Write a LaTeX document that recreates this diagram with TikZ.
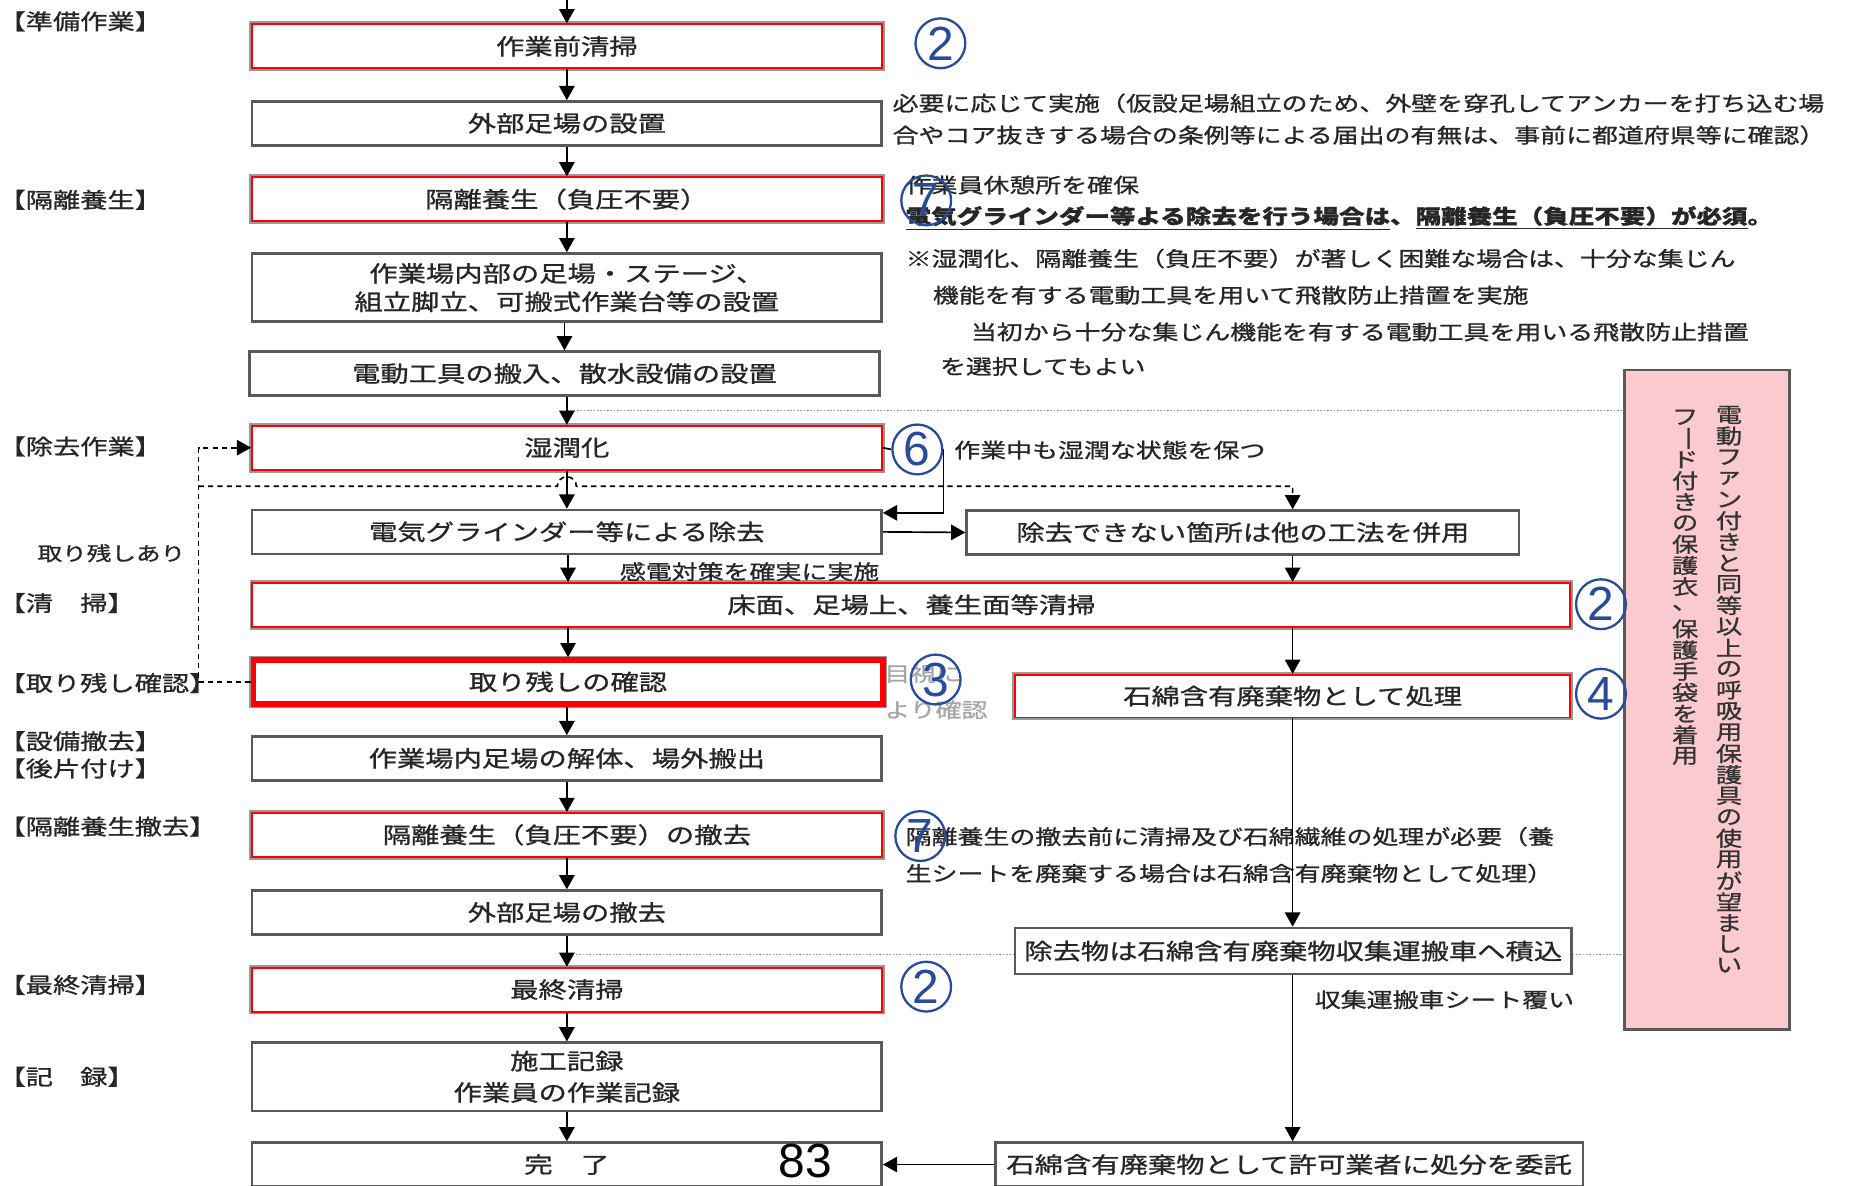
\documentclass[tikz,border=0pt]{standalone}
\usepackage{fontspec}
\setmainfont{Noto Sans CJK JP}[FakeStretch=1.27,FakeBold=1]
\newfontfamily\latinfont{Liberation Sans}
\usetikzlibrary{arrows.meta}
\usetikzlibrary{backgrounds}
\definecolor{cblue}{RGB}{40,75,155}
\definecolor{pinkbg}{RGB}{250,202,206}

\begin{document}
\begin{tikzpicture}[x=0.02cm,y=-0.02cm,>={Triangle[length=0.24cm,width=0.26cm]},line width=0.8pt,
  box/.style={draw=black!65,line width=1.2pt,fill=white,minimum width=10.62cm,minimum height=0.74cm,inner sep=0pt,text=black!85,font=\fontsize{10.7}{13.6}\selectfont},
  redbox/.style={box,draw=red,line width=0.9pt,preaction={draw=black!40,line width=2.8pt}},
  sidenote/.style={anchor=west,inner sep=0pt,text=black!85,align=left,font=\fontsize{9.8}{15.3}\selectfont},
  stage/.style={anchor=west,inner sep=0pt,text=black!85,font=\fontsize{10.3}{12}\selectfont},
  numc/.style={circle,draw=cblue,line width=1.1pt,minimum size=0.84cm,inner sep=0pt,text=cblue,font=\latinfont\fontsize{23}{23}\selectfont},
  vchar/.style={inner sep=0pt,text=black!80,font=\fontsize{9.95}{10}\selectfont},
  dashline/.style={dash pattern=on 2.5pt off 2pt},
  dotline/.style={draw=black!40,dash pattern=on 0.8pt off 0.8pt}]
\useasboundingbox (0,0) rectangle (1560,1000);

\node[stage] (s1) at (-2,18) {【準備作業】};
\node[stage] (s2) at (-2,168.5) {【隔離養生】};
\node[stage] (s3) at (-2,376.5) {【除去作業】};
\node[stage,font=\fontsize{9.3}{12}\selectfont] (s4) at (31,466.5) {取り残しあり};
\node[stage] (s5) at (-2,508.5) {【清　掃】};
\node[stage] (s6) at (-2,576) {【取り残し確認】};
\node[stage] (s7) at (-2,625) {【設備撤去】};
\node[stage] (s8) at (-2,648) {【後片付け】};
\node[stage] (s9) at (-2,697) {【隔離養生撤去】};
\node[stage] (s10) at (-2,830.5) {【最終清掃】};
\node[stage] (s11) at (-2,908) {【記　録】};

\node[redbox] (pre) at (478,39) {作業前清掃};
\node[box] (ext) at (478,104) {外部足場の設置};
\node[redbox] (iso) at (478,168) {隔離養生（負圧不要）};
\node[box,minimum height=1.15cm,align=center] (inner) at (478,242.5) {作業場内部の足場・ステージ、\\組立脚立、可搬式作業台等の設置};
\node[box] (tool) at (476,315) {電動工具の搬入、散水設備の設置};
\node[redbox] (wet) at (478,377.5) {湿潤化};
\node[box] (grind) at (478,448.5) {電気グラインダー等による除去};
\node[redbox,minimum width=22.23cm] (floor) at (768.5,510) {床面、足場上、養生面等清掃};
\node[redbox,line width=2.6pt,preaction={draw=black!40,line width=3.8pt}] (check) at (479,575) {取り残しの確認};
\node[box] (dis) at (478,639.5) {作業場内足場の解体、場外搬出};
\node[redbox] (isorm) at (478,704) {隔離養生（負圧不要）の撤去};
\node[box] (extrm) at (478,769.5) {外部足場の撤去};
\node[redbox] (fin) at (478,834.5) {最終清掃};
\node[box,minimum height=1.15cm,align=center,font=\fontsize{10.7}{15.1}\selectfont] (rec) at (478,908) {施工記録\\作業員の作業記録};
\node[box] (done) at (478,982) {完　了};

\node[box,minimum width=9.32cm] (alt) at (1048,449) {除去できない箇所は他の工法を併用};
\node[redbox,minimum width=9.36cm,minimum height=0.72cm] (waste) at (1090,587) {石綿含有廃棄物として処理};
\node[box,minimum width=9.38cm,minimum height=0.78cm] (load) at (1090.5,802) {除去物は石綿含有廃棄物収集運搬車へ積込};
\node[box,minimum width=9.91cm] (entrust) at (1087,982) {石綿含有廃棄物として許可業者に処分を委託};
\node[draw=black!65,fill=pinkbg,line width=1.2pt,minimum width=2.78cm,minimum height=11.13cm] (pink) at (1439.5,590) {};
\foreach \ch [count=\i] in {電,動,フ,ァ,ン,付,き,と,同,等,以,上,の,呼,吸,用,保,護,具,の,使,用,が,望,ま,し,い}
  \node[vchar] (va\i) at (1458,332+17.85*\i) {\ch};
\foreach \ch [count=\i] in {フ,{\rotatebox{-90}{ー}},ド,付,き,の,保,護,衣,、,保,護,手,袋,を,着,用}
  \node[vchar] (vb\i) at (1421,334+17.85*\i) {\ch};

\node[sidenote] (n1) at (752,100.5) {必要に応じて実施（仮設足場組立のため、外壁を穿孔してアンカーを打ち込む場\\合やコア抜きする場合の条例等による届出の有無は、事前に都道府県等に確認）};
\node[sidenote] (n2) at (763,156) {作業員休憩所を確保};
\node[sidenote,font=\bfseries\fontsize{9.65}{12}\selectfont] (n3) at (763,184) {\underline{電気グラインダー等よる除去を行う場合は}、\underline{隔離養生（負圧不要）が必須}。};
\node[sidenote] (n4) at (763,218) {※湿潤化、隔離養生（負圧不要）が著しく困難な場合は、十分な集じん};
\node[sidenote] (n5) at (786,249) {機能を有する電動工具を用いて飛散防止措置を実施};
\node[sidenote] (n6) at (818,280) {当初から十分な集じん機能を有する電動工具を用いる飛散防止措置};
\node[sidenote] (n7) at (792,309) {を選択してもよい};
\node[sidenote] (wetnote) at (804,379.5) {作業中も湿潤な状態を保つ};
\node[sidenote] (elec) at (522,482) {感電対策を確実に実施};
\node[sidenote,text=black!35] (eye1) at (745,568) {目視に};
\node[sidenote,text=black!35] (eye2) at (745,598.5) {より確認};
\node[sidenote] (rm1) at (763,705.5) {隔離養生の撤去前に清掃及び石綿繊維の処理が必要（養};
\node[sidenote] (rm2) at (763,736.5) {生シートを廃棄する場合は石綿含有廃棄物として処理）};
\node[sidenote] (cover) at (1108,843) {収集運搬車シート覆い};
\node[font=\latinfont\fontsize{23}{23}\selectfont] (pg) at (679,979) {83};

\node[numc] (c2a) at (793,36.5) {2};
\node[numc] (c7a) at (781,169) {7};
\node[numc] (c6) at (773.5,379) {6};
\node[numc] (c2b) at (1350,509.5) {2};
\node[numc] (c3) at (789,573) {3};
\node[numc] (c4) at (1350,585) {4};
\node[numc] (c7b) at (776,705) {7};
\node[numc] (c2c) at (781,832) {2};

\coordinate (start) at (478,0);
\coordinate (d1) at (478,346);
\coordinate (d2) at (480,804.5);
\coordinate (lp) at (167.5,410);
\begin{scope}[on background layer]
\draw[dotline] (d1) -- (d1 -| pink.west);
\draw[dotline] (d2) -- (d2 -| pink.west);
\end{scope}

\draw[->] (start) -- (pre.north);
\foreach \a/\b in {pre/ext,ext/iso,iso/inner,inner/tool,tool/wet,wet/grind,check/dis,dis/isorm,isorm/extrm,extrm/fin,fin/rec,rec/done}
  \draw[->] (\a.south -| \b.north) -- (\b.north);
\draw[->] (grind.south -| check.north) -- (floor.north -| check.north);
\draw[->] (floor.south -| check.north) -- (check.north);
\draw[dashline,->] (check.west) -| (lp) |- (wet.west);
\draw[dashline,->] (lp) -- ([xshift=-0.16cm]lp -| wet.south) arc[start angle=180,end angle=360,radius=8] -| (alt.north -| waste.north);
\draw (wet.east) -- (c6.west);
\draw[->] (c6.east) |- ([yshift=-0.07cm]grind.north east);
\draw[->] (grind.east) -- (alt.west);
\draw[->] (alt.south -| waste.north) -- (floor.north -| waste.north);
\draw[->] (floor.south -| waste.north) -- (waste.north);
\draw[->] (waste.south) -- (load.north -| waste.south);
\draw[->] (load.south -| waste.south) -- (entrust.north -| waste.south);
\draw[->] (entrust.west) -- (done.east);
\end{tikzpicture}
\end{document}
